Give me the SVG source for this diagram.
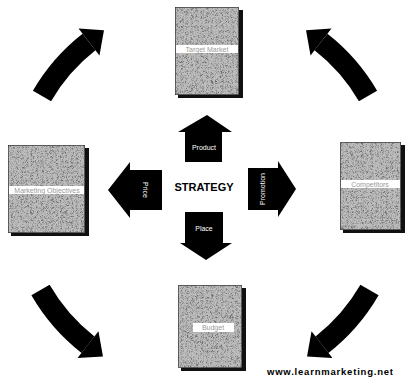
<svg xmlns="http://www.w3.org/2000/svg" width="406" height="381" viewBox="0 0 406 381">
<style>
.shadow{fill:#111}
.box{fill:#bdbdbd;stroke:#333;stroke-width:1.5;filter:url(#grain)}
.strip{fill:#fff}
.blabel{font-family:"Liberation Sans",Arial,sans-serif;font-size:7px;fill:#9a9a9a;text-anchor:middle}
.arc{fill:none;stroke:#000;stroke-width:21;marker-end:url(#head)}
.cArrow{fill:#000}
.alabel{font-family:"Liberation Sans",Arial,sans-serif;font-size:7px;fill:#fff;text-anchor:middle}
.title{font-family:"Liberation Sans",Arial,sans-serif;font-size:11px;font-weight:bold;fill:#000;text-anchor:middle}
.wm{font-family:"Liberation Sans",Arial,sans-serif;font-size:9.5px;font-weight:bold;fill:#000}
</style>
<defs>
<filter id="grain" x="0" y="0" width="1" height="1">
<feTurbulence type="turbulence" baseFrequency="1.2" numOctaves="2" seed="4" result="n"/>
<feColorMatrix in="n" type="matrix" values="0 0 0 0 0.15  0 0 0 0 0.15  0 0 0 0 0.15  2.2 0 0 0 -0.35" result="m"/>
<feComposite in="m" in2="SourceGraphic" operator="in" result="dots"/>
<feMerge><feMergeNode in="SourceGraphic"/><feMergeNode in="dots"/></feMerge>
</filter>
<marker id="head" markerUnits="userSpaceOnUse" markerWidth="30" markerHeight="44" refX="0" refY="22" orient="auto" overflow="visible">
<path d="M0,5 L19,22 L0,39 z" fill="#000"/>
</marker>
</defs>

<g id="connectors">
<path class="arc" d="M42,96 A188,188 0 0,1 89,42"/>
<path class="arc" d="M368,96 A188,188 0 0,0 321,42"/>
<path class="arc" d="M40.5,290 A190,190 0 0,0 88,344.7"/>
<path class="arc" d="M369.5,290 A190,190 0 0,1 322,344.7"/>
</g>

<g id="box-top">
<rect class="shadow" x="178" y="10" width="65" height="88"/>
<rect class="box" x="175" y="7" width="64" height="88"/>
<rect class="strip" x="176" y="45" width="62" height="8"/>
<text class="blabel" x="207" y="51.5">Target Market</text>
</g>
<g id="box-left">
<rect class="shadow" x="11" y="148" width="78" height="88"/>
<rect class="box" x="8" y="145" width="77" height="88"/>
<rect class="strip" x="9" y="186" width="75" height="8"/>
<text class="blabel" x="47" y="192.5">Marketing Objectives</text>
</g>
<g id="box-right">
<rect class="shadow" x="343" y="145" width="62" height="88"/>
<rect class="box" x="340" y="142" width="61" height="88"/>
<rect class="strip" x="341" y="180" width="59" height="8"/>
<text class="blabel" x="370" y="186.5">Competitors</text>
</g>
<g id="box-bottom">
<rect class="shadow" x="181" y="288" width="65" height="83"/>
<rect class="box" x="178" y="285" width="64" height="83"/>
<rect class="strip" x="193" y="323" width="41" height="9"/>
<text class="blabel" x="213" y="330">Budget</text>
</g>

<g id="strategy">
<text class="title" x="204" y="191">STRATEGY</text>
</g>
<g id="arrow-product">
<polygon class="cArrow" points="207,115 232,132 222,132 222,162 185,162 185,132 178,132"/>
<text class="alabel" x="204" y="150">Product</text>
</g>
<g id="arrow-price">
<polygon class="cArrow" points="108,190 130,162 130,170 162,170 162,210 130,210 130,218"/>
<text class="alabel" transform="translate(145,190) rotate(90)" x="0" y="2">Price</text>
</g>
<g id="arrow-promotion">
<polygon class="cArrow" points="296,189 278,161 278,168 248,168 248,210 278,210 278,217"/>
<text class="alabel" transform="translate(262,189) rotate(-90)" x="0" y="2.5">Promotion</text>
</g>
<g id="arrow-place">
<polygon class="cArrow" points="185,212 223,212 223,243 232,243 206,260 180,243 185,243"/>
<text class="alabel" x="204" y="231">Place</text>
</g>

<text class="wm" x="267" y="375" textLength="126">www.learnmarketing.net</text>
</svg>
